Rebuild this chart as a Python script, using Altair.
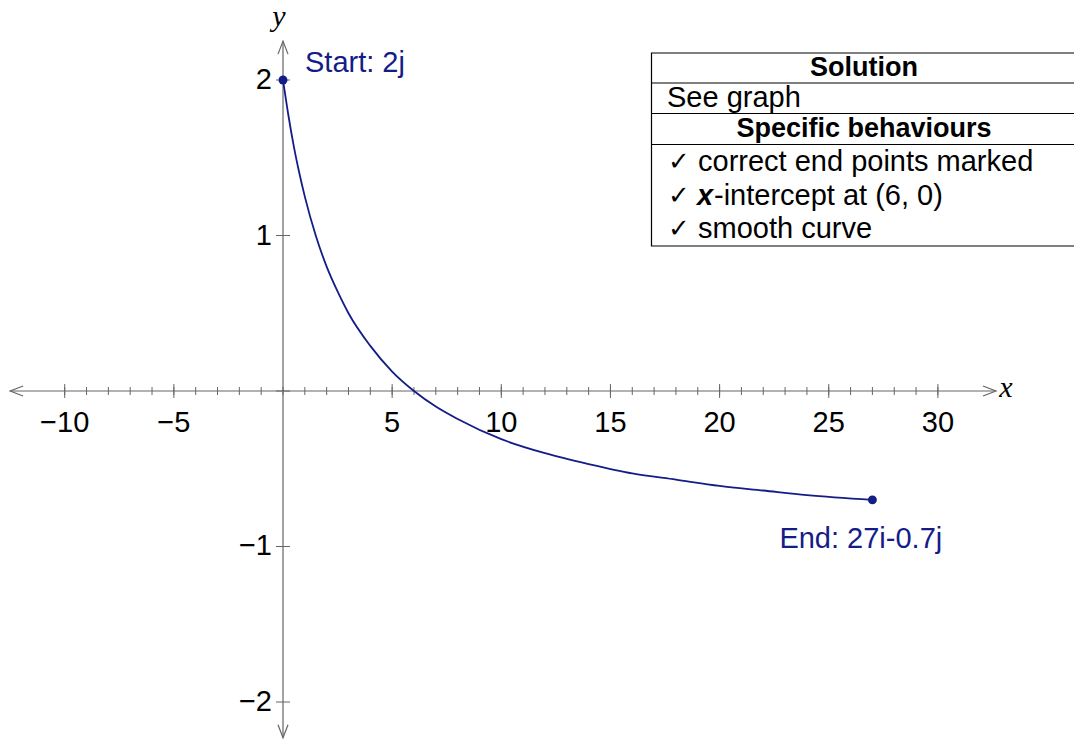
import altair as alt
import pandas as pd

# Curve samples (x, y) of the path from 2j to 27i - 0.7j
curve_x = [0, 0.25, 0.5, 0.75, 1, 1.5, 2, 2.5, 3, 4, 5, 6, 7, 8, 10, 12, 14, 16, 18, 20, 22, 24, 27]
curve_y = [2.0, 1.77, 1.57, 1.40, 1.25, 1.0, 0.8, 0.64, 0.5, 0.29, 0.125, 0.0, -0.10, -0.18,
           -0.31, -0.40, -0.47, -0.53, -0.57, -0.61, -0.64, -0.67, -0.70]

# End points and their labels
end_x = [0, 27]
end_y = [2.0, -0.7]
end_labels = ["Start: 2j", "End: 27i-0.7j"]

# Axis ticks and labels
x_minor = list(range(-10, 31))
x_major = [-10, -5, 5, 10, 15, 20, 25, 30]
x_major_labels = ["\u221210", "\u22125", "5", "10", "15", "20", "25", "30"]
y_major = [-2, -1, 1, 2]
y_major_labels = ["\u22122", "\u22121", "1", "2"]

# Marking-key table
table_headers = ["Solution", "Specific behaviours"]
table_answer = ["See graph"]
table_items = ["correct end points marked", "-intercept at (6, 0)", "smooth curve"]

W, H = 1074, 740
X_DOM = [-12.964, 36.235]
Y_DOM = [-2.2444, 2.5145]
AXIS_X = [-12.5, 32.66]
AXIS_Y = [-2.23, 2.25]

NAVY = "#141c88"
AXIS_COL = "#666666"
FONT = "Liberation Sans"

xs = alt.Scale(domain=X_DOM, nice=False, zero=False)
ys = alt.Scale(domain=Y_DOM, nice=False, zero=False)


def X(field):
    return alt.X(field, type="quantitative", scale=xs, axis=None)


def Y(field):
    return alt.Y(field, type="quantitative", scale=ys, axis=None)


def PX(field):
    return alt.X(field, type="quantitative", scale=None)


def PY(field):
    return alt.Y(field, type="quantitative", scale=None)


# Coordinate axes
xaxis = alt.Chart(pd.DataFrame({"x": [AXIS_X[0]], "x2": [AXIS_X[1]], "y": [0]})).mark_rule(
    color=AXIS_COL, strokeWidth=1.2).encode(x=X("x"), x2="x2", y=Y("y"))
yaxis = alt.Chart(pd.DataFrame({"y": [AXIS_Y[0]], "y2": [AXIS_Y[1]], "x": [0]})).mark_rule(
    color=AXIS_COL, strokeWidth=1.2).encode(y=Y("y"), y2="y2", x=X("x"))

arrows = pd.DataFrame({
    "x": [AXIS_X[0], AXIS_X[1], 0, 0],
    "y": [0, 0, AXIS_Y[0], AXIS_Y[1]],
    "shape": ["M2.6,-1L0,0L2.6,1", "M-2.6,-1L0,0L-2.6,1", "M-1,-2.6L0,0L1,-2.6", "M-1,2.6L0,0L1,2.6"],
})
arrow_marks = alt.Chart(arrows).mark_point(filled=False, color=AXIS_COL, strokeWidth=1.2, size=100, opacity=1).encode(
    x=X("x"), y=Y("y"), shape=alt.Shape("shape:N", scale=None))

minor_ticks = alt.Chart(pd.DataFrame({"x": x_minor, "y": [0] * len(x_minor)})).mark_tick(
    orient="vertical", size=8, thickness=1, color=AXIS_COL, opacity=1).encode(x=X("x"), y=Y("y"))
major_ticks = alt.Chart(pd.DataFrame({"x": x_major, "y": [0] * len(x_major)})).mark_tick(
    orient="vertical", size=14, thickness=1, color=AXIS_COL, opacity=1).encode(x=X("x"), y=Y("y"))
y_ticks = alt.Chart(pd.DataFrame({"y": y_major + [0], "x": [0] * (len(y_major) + 1)})).mark_tick(
    orient="horizontal", size=14, thickness=1, color=AXIS_COL, opacity=1).encode(x=X("x"), y=Y("y"))

x_labels = alt.Chart(pd.DataFrame({"x": x_major, "y": [0] * len(x_major), "t": x_major_labels})).mark_text(
    font=FONT, fontSize=29, color="black", baseline="middle", align="center", dy=32).encode(
    x=X("x"), y=Y("y"), text="t:N")
y_labels = alt.Chart(pd.DataFrame({"y": y_major, "x": [0] * len(y_major), "t": y_major_labels})).mark_text(
    font=FONT, fontSize=29, color="black", baseline="middle", align="right", dx=-11).encode(
    x=X("x"), y=Y("y"), text="t:N")

x_name = alt.Chart(pd.DataFrame({"x": [AXIS_X[1]], "y": [0], "t": ["x"]})).mark_text(
    font="Liberation Serif", fontStyle="italic", fontSize=30, color="black", baseline="middle", align="center",
    dx=10, dy=-3).encode(x=X("x"), y=Y("y"), text="t:N")
y_name = alt.Chart(pd.DataFrame({"x": [0], "y": [AXIS_Y[1]], "t": ["y"]})).mark_text(
    font="Liberation Serif", fontStyle="italic", fontSize=30, color="black", baseline="middle", align="center",
    dx=-4, dy=-24).encode(x=X("x"), y=Y("y"), text="t:N")

# The curve itself
curve = alt.Chart(pd.DataFrame({"x": curve_x, "y": curve_y})).mark_line(
    color=NAVY, strokeWidth=1.8, interpolate="monotone").encode(x=X("x"), y=Y("y"), order="x:Q")

ends_df = pd.DataFrame({"x": end_x, "y": end_y, "t": end_labels})
end_points = alt.Chart(ends_df).mark_circle(color=NAVY, size=80, opacity=1).encode(x=X("x"), y=Y("y"))
start_text = alt.Chart(ends_df.iloc[[0]]).mark_text(
    font=FONT, fontSize=29, color=NAVY, align="left", baseline="middle", dx=22, dy=-17).encode(
    x=X("x"), y=Y("y"), text="t:N")
end_text = alt.Chart(ends_df.iloc[[1]]).mark_text(
    font=FONT, fontSize=29, color=NAVY, align="left", baseline="middle", dx=-93, dy=39).encode(
    x=X("x"), y=Y("y"), text="t:N")

# Marking-key table drawn in pixel space
TL, TR = 651.5, 1090
row_lines = [53, 83, 113.5, 144.5, 246]
box = alt.Chart(pd.DataFrame({"x": [TL], "x2": [TR], "y": [row_lines[0]], "y2": [row_lines[-1]]})).mark_rect(
    fill="white", stroke="black", strokeWidth=1.2).encode(x=PX("x"), x2="x2", y=PY("y"), y2="y2")
lines = alt.Chart(pd.DataFrame({"y": row_lines[1:-1], "x": [TL] * 3, "x2": [TR] * 3})).mark_rule(
    color="black", strokeWidth=1.2).encode(x=PX("x"), x2="x2", y=PY("y"))

hdr = alt.Chart(pd.DataFrame({"t": table_headers, "y": [68, 129], "x": [864, 864]})).mark_text(
    font=FONT, fontSize=27, fontWeight="bold", color="black", align="center", baseline="middle").encode(
    x=PX("x"), y=PY("y"), text="t:N")
answer = alt.Chart(pd.DataFrame({"t": table_answer, "y": [98], "x": [667]})).mark_text(
    font=FONT, fontSize=29, color="black", align="left", baseline="middle").encode(
    x=PX("x"), y=PY("y"), text="t:N")

item_y = [162, 196, 229]
checks = alt.Chart(pd.DataFrame({"t": ["\u2713"] * 3, "y": item_y, "x": [668] * 3})).mark_text(
    font="DejaVu Sans", fontSize=26, color="black", align="left", baseline="middle").encode(
    x=PX("x"), y=PY("y"), text="t:N")
item_x = [698, 714, 698]
items = alt.Chart(pd.DataFrame({"t": table_items, "y": item_y, "x": item_x})).mark_text(
    font=FONT, fontSize=29, color="black", align="left", baseline="middle").encode(
    x=PX("x"), y=PY("y"), text="t:N")
x_var = alt.Chart(pd.DataFrame({"t": ["x"], "y": [item_y[1]], "x": [697]})).mark_text(
    font=FONT, fontSize=29, fontStyle="italic", fontWeight="bold", color="black", align="left", baseline="middle").encode(
    x=PX("x"), y=PY("y"), text="t:N")

chart = alt.layer(
    xaxis, yaxis, arrow_marks, minor_ticks, major_ticks, y_ticks, x_labels, y_labels, x_name, y_name,
    curve, end_points, start_text, end_text, box, lines, hdr, answer, checks, items, x_var,
).properties(
    width=W, height=H, padding=0, autosize=alt.AutoSizeParams(type="none"),
).configure_view(stroke=None)

chart.save("out.html", embed_options={"renderer": "svg", "actions": False})
